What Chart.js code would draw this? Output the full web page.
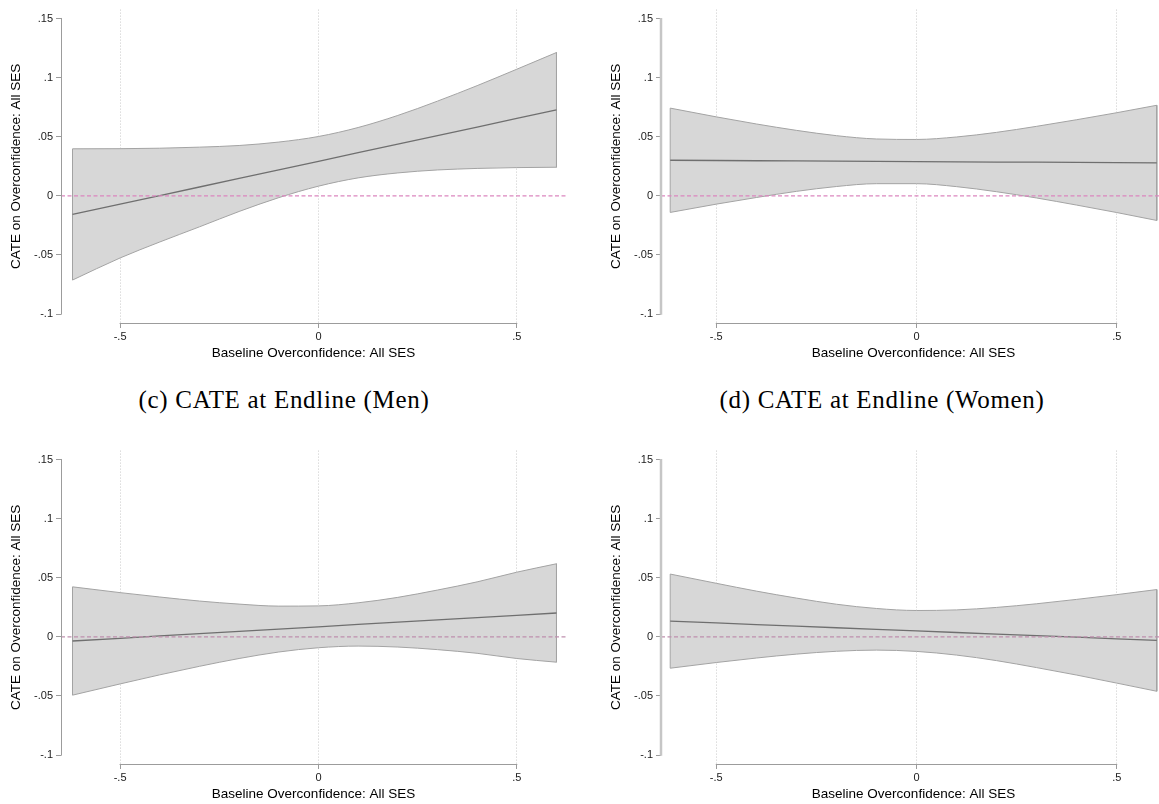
<!DOCTYPE html>
<html>
<head>
<meta charset="utf-8">
<script src="https://cdn.jsdelivr.net/npm/chart.js@4.4.1/dist/chart.umd.min.js"></script>
<style>
  html, body { margin: 0; padding: 0; background: #fff; width: 1159px; height: 804px; overflow: hidden; position: relative; }
  .panel { position: absolute; width: 580px; height: 370px; }
  .caption { position: absolute; font-family: "Liberation Serif", serif; font-size: 25px; line-height: 30px; letter-spacing: 0.7px; color: #000; white-space: nowrap; transform: translateX(-50%); }
</style>
</head>
<body>
<div class="panel" style="left:0;top:0"><canvas id="chartA" width="580" height="370"></canvas></div>
<div class="panel" style="left:600px;top:0"><canvas id="chartB" width="580" height="370"></canvas></div>
<div class="caption" style="left:284px;top:385px">(c) CATE at Endline (Men)</div>
<div class="caption" style="left:882px;top:385px">(d) CATE at Endline (Women)</div>
<div class="panel" style="left:0;top:441px"><canvas id="chartC" width="580" height="370"></canvas></div>
<div class="panel" style="left:600px;top:441px"><canvas id="chartD" width="580" height="370"></canvas></div>
<script>
// Baseline overconfidence values where the curves were read
const xsLeft  = [-0.62, -0.5, -0.4, -0.3, -0.2, -0.1, 0, 0.1, 0.2, 0.3, 0.4, 0.5, 0.6];
const xsRight = [-0.615, -0.5, -0.4, -0.3, -0.2, -0.1, 0, 0.1, 0.2, 0.3, 0.4, 0.5, 0.6];

// Top-left panel
const aEst   = [-0.0157, -0.0070, 0.0002, 0.0075, 0.0147, 0.0220, 0.0292, 0.0365, 0.0437, 0.0510, 0.0582, 0.0655, 0.0727];
const aUpper = [0.0398, 0.0399, 0.0403, 0.0412, 0.0426, 0.0455, 0.0502, 0.0578, 0.0680, 0.0801, 0.0932, 0.1071, 0.1212];
const aLower = [-0.0712, -0.0525, -0.0390, -0.0262, -0.0132, -0.0015, 0.0082, 0.0152, 0.0194, 0.0219, 0.0232, 0.0239, 0.0242];

// Top-right panel
const bEst   = [0.0301, 0.0299, 0.0297, 0.0296, 0.0294, 0.0292, 0.0290, 0.0288, 0.0286, 0.0285, 0.0283, 0.0281, 0.0279];
const bUpper = [0.0742, 0.0668, 0.0608, 0.0554, 0.0509, 0.0481, 0.0477, 0.0498, 0.0537, 0.0588, 0.0644, 0.0703, 0.0766];
const bLower = [-0.0140, -0.0070, -0.0014, 0.0038, 0.0079, 0.0103, 0.0103, 0.0078, 0.0035, -0.0018, -0.0078, -0.0141, -0.0208];

// (c) Endline, men
const cEst   = [-0.0035, -0.0012, 0.0008, 0.0027, 0.0047, 0.0066, 0.0085, 0.0105, 0.0124, 0.0144, 0.0163, 0.0182, 0.0202];
const cUpper = [0.0423, 0.0374, 0.0337, 0.0303, 0.0277, 0.0260, 0.0262, 0.0288, 0.0334, 0.0396, 0.0465, 0.0547, 0.0618];
const cLower = [-0.0493, -0.0398, -0.0321, -0.0249, -0.0183, -0.0128, -0.0092, -0.0078, -0.0086, -0.0108, -0.0139, -0.0183, -0.0214];

// (d) Endline, women
const dEst   = [0.0133, 0.0118, 0.0104, 0.0091, 0.0077, 0.0064, 0.0050, 0.0037, 0.0024, 0.0010, -0.0003, -0.0017, -0.0030];
const dUpper = [0.0531, 0.0453, 0.0387, 0.0328, 0.0276, 0.0240, 0.0223, 0.0228, 0.0249, 0.0280, 0.0317, 0.0357, 0.0400];
const dLower = [-0.0265, -0.0217, -0.0179, -0.0146, -0.0122, -0.0112, -0.0123, -0.0154, -0.0201, -0.0260, -0.0323, -0.0391, -0.0460];

// Axes
const yTicks = [-0.1, -0.05, 0, 0.05, 0.1, 0.15];
const yTickLabels = ['-.1', '-.05', '0', '.05', '.1', '.15'];
const xTicks = [-0.5, 0, 0.5];
const xTickLabels = ['-.5', '0', '.5'];
const yRange = [-0.1075, 0.1575];
const xRangeLeft = [-0.649, 0.624];
const xRangeRight = [-0.638, 0.623];
const xTitle = 'Baseline Overconfidence: All SES';
const yTitle = 'CATE on Overconfidence: All SES';

const BAND = '#d7d7d7';
const BAND_EDGE = '#a3a3a3';
const EST = '#6f6f6f';
const AXIS = '#9c9c9c';
const FONT = '"Liberation Sans", Arial, sans-serif';

// Stata draws its axis lines only between the outer ticks
const stataAxes = {
    id: 'stataAxes',
    afterDraw(chart, args, opts) {
        const {ctx, chartArea, scales: {x, y}} = chart;
        ctx.save();
        ctx.lineCap = 'butt';
        // y axis
        ctx.strokeStyle = opts.yColor;
        ctx.lineWidth = opts.yWidth;
        ctx.beginPath();
        const ax = Math.round(chartArea.left) + 0.5 - (opts.yWidth > 1 ? 0.5 : 0);
        ctx.moveTo(ax, y.getPixelForValue(yTicks[yTicks.length - 1]) - 0.5);
        ctx.lineTo(ax, y.getPixelForValue(yTicks[0]) + 0.5);
        ctx.stroke();
        // x axis
        ctx.strokeStyle = AXIS;
        ctx.lineWidth = 1;
        ctx.beginPath();
        const ay = Math.round(chartArea.bottom) + 0.5;
        ctx.moveTo(x.getPixelForValue(xTicks[0]) - 0.5, ay);
        ctx.lineTo(x.getPixelForValue(xTicks[xTicks.length - 1]) + 0.5, ay);
        ctx.stroke();
        ctx.restore();
    }
};

const pts = (xArr, yArr) => xArr.map((x, i) => ({x: x, y: yArr[i]}));

function makePanel(id, xArr, upper, lower, est, xRange, zeroColor, yAxisStyle) {
    const n = xArr.length - 1;
    const caps = [
        {x: xArr[0], y: lower[0]}, {x: xArr[0], y: upper[0]}, {x: xArr[0], y: null},
        {x: xArr[n], y: upper[n]}, {x: xArr[n], y: lower[n]}
    ];
    return new Chart(document.getElementById(id).getContext('2d'), {
        type: 'line',
        data: {
            datasets: [
                { data: pts(xArr, upper), fill: 1, backgroundColor: BAND, borderColor: BAND_EDGE, borderWidth: 1,
                  cubicInterpolationMode: 'monotone', pointRadius: 0, order: 5 },
                { data: pts(xArr, lower), fill: false, borderColor: BAND_EDGE, borderWidth: 1,
                  cubicInterpolationMode: 'monotone', pointRadius: 0, order: 4 },
                { data: caps, fill: false, borderColor: BAND_EDGE, borderWidth: 1, tension: 0,
                  spanGaps: false, pointRadius: 0, order: 3 },
                { data: pts(xArr, est), fill: false, borderColor: EST, borderWidth: 1.3, tension: 0,
                  pointRadius: 0, order: 2 },
                { data: [{x: xRange[0], y: 0}, {x: xRange[1], y: 0}], fill: false, borderColor: zeroColor,
                  borderWidth: 1.2, borderDash: [4, 2.5], tension: 0, pointRadius: 0, order: 1 }
            ]
        },
        options: {
            responsive: false,
            animation: false,
            events: [],
            layout: { padding: { left: 0, top: 3, right: 14, bottom: 0 } },
            plugins: {
                legend: { display: false },
                tooltip: { enabled: false },
                stataAxes: yAxisStyle
            },
            scales: {
                x: {
                    type: 'linear',
                    min: xRange[0],
                    max: xRange[1],
                    z: 1,
                    afterBuildTicks: (s) => { s.ticks = xTicks.map(v => ({value: v})); },
                    afterFit: (s) => { s.height = 47; },
                    border: { display: false, dash: [1, 2] },
                    grid: { color: '#c9c9c9', lineWidth: 1, drawTicks: true, tickLength: 5,
                            tickColor: AXIS, tickBorderDash: [] },
                    ticks: {
                        color: '#1a1a1a', padding: 2, maxRotation: 0,
                        font: { family: FONT, size: 11 },
                        callback: (v) => xTickLabels[xTicks.indexOf(v)]
                    },
                    title: { display: true, text: xTitle, color: '#000',
                             font: { family: FONT, size: 13.5 }, padding: { top: 0, bottom: 9 } }
                },
                y: {
                    type: 'linear',
                    min: yRange[0],
                    max: yRange[1],
                    afterBuildTicks: (s) => { s.ticks = yTicks.map(v => ({value: v})); },
                    afterFit: (s) => { s.width = 61; },
                    border: { display: false },
                    grid: { drawOnChartArea: false, drawTicks: true, tickLength: 5, tickColor: AXIS },
                    ticks: {
                        color: '#1a1a1a', padding: 3,
                        font: { family: FONT, size: 11 },
                        callback: (v) => yTickLabels[yTicks.indexOf(v)]
                    },
                    title: { display: true, text: yTitle, color: '#000',
                             font: { family: FONT, size: 13.5 }, padding: { top: 8, bottom: 0 } }
                }
            }
        },
        plugins: [stataAxes]
    });
}

const leftAxis = { yColor: AXIS, yWidth: 1 };
const rightAxis = { yColor: '#c6c6c6', yWidth: 2.5 };

makePanel('chartA', xsLeft, aUpper, aLower, aEst, xRangeLeft, '#dc86bf', leftAxis);
makePanel('chartB', xsRight, bUpper, bLower, bEst, xRangeRight, '#dc86bf', rightAxis);
makePanel('chartC', xsLeft, cUpper, cLower, cEst, xRangeLeft, '#bf90ae', leftAxis);
makePanel('chartD', xsRight, dUpper, dLower, dEst, xRangeRight, '#bf90ae', rightAxis);
</script>
</body>
</html>
